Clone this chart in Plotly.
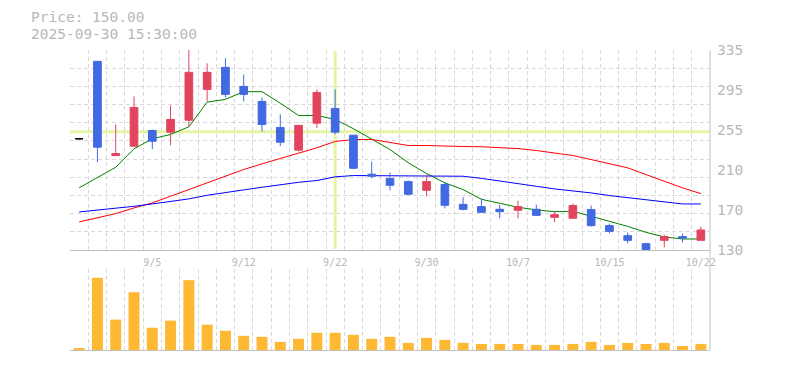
import plotly.graph_objects as go

dates = ["2025-09-01", "2025-09-02", "2025-09-03", "2025-09-04", "2025-09-05",
         "2025-09-08", "2025-09-09", "2025-09-10", "2025-09-11", "2025-09-12",
         "2025-09-16", "2025-09-17", "2025-09-18", "2025-09-19", "2025-09-22",
         "2025-09-24", "2025-09-25", "2025-09-26", "2025-09-29", "2025-09-30",
         "2025-10-01", "2025-10-02", "2025-10-03", "2025-10-06", "2025-10-07",
         "2025-10-08", "2025-10-09", "2025-10-10", "2025-10-14", "2025-10-15",
         "2025-10-16", "2025-10-17", "2025-10-20", "2025-10-21", "2025-10-22"]

open_ = [244, 323.4, 226.8, 236.4, 252.5, 250.8, 263.1, 294.6, 317.2, 297.7,
         282.3, 255.6, 232.3, 260.0, 275.1, 247.7, 207.7, 203.2, 200.1, 191.2,
         197.1, 176.8, 174.5, 171.7, 170.7, 171.7, 163.5, 162.5, 171.4, 155.0,
         144.7, 136.5, 139.9, 143.7, 139.9]
high = [244, 323.4, 258.7, 287.4, 253.5, 278.2, 335.0, 321.3, 326.5, 310.0,
        286.4, 269.0, 257.7, 294.6, 294.6, 247.7, 220.7, 209.4, 201.1, 207.3,
        199.1, 184.0, 182.7, 176.2, 180.6, 176.5, 169.3, 177.6, 175.5, 157.0,
        147.8, 137.5, 145.7, 146.8, 153.9]
low = [244, 220.0, 226.8, 236.4, 233.3, 237.4, 255.9, 282.3, 286.4, 282.3,
       251.5, 236.4, 231.0, 254.9, 248.7, 212.8, 203.5, 191.2, 186.1, 185.0,
       172.7, 170.6, 168.6, 162.5, 162.5, 165.5, 158.4, 162.5, 153.9, 147.1,
       136.8, 130.5, 132.7, 137.8, 139.9]
close = [244, 235.4, 228.9, 276.1, 241.5, 263.8, 312.1, 312.1, 289.5, 289.5,
         258.7, 240.5, 257.7, 291.5, 250.8, 213.8, 205.6, 196.3, 187.1, 200.1,
         175.8, 171.7, 168.6, 169.3, 174.5, 165.5, 166.2, 175.5, 155.0, 149.1,
         139.9, 130.5, 143.7, 142.3, 150.5]
volume = [20, 713, 300, 570, 220, 290, 690, 250, 190, 140,
          130, 80, 110, 170, 170, 150, 110, 130, 70, 120,
          100, 70, 60, 60, 60, 50, 50, 60, 80, 50,
          70, 60, 70, 40, 60]

ma_short = [193.7, 203.9, 214.8, 233.7, 244.0, 248.4, 256.3, 281.6, 284.4, 292.3,
            292.3, 280.5, 267.9, 267.9, 263.8, 254.3, 243.3, 233.0, 219.4, 208.4,
            198.8, 191.9, 182.0, 177.6, 173.8, 171.1, 169.3, 169.7, 164.5, 159.4,
            154.2, 148.1, 143.4, 141.3, 141.3]
ma_mid = [158.8, 162.9, 167.3, 173.1, 178.3, 185.1, 191.9, 198.8, 205.6, 212.5,
          218.3, 223.6, 229.6, 234.8, 241.2, 243.3, 243.3, 239.9, 237.1, 237.1,
          236.4, 236.1, 235.8, 235.1, 234.0, 232.0, 229.6, 226.8, 222.7, 218.6,
          214.2, 207.3, 200.5, 193.7, 187.8]
ma_long = [169.0, 170.7, 172.4, 174.8, 177.2, 179.6, 182.4, 186.1, 189.2, 191.6,
           194.3, 196.9, 199.4, 201.2, 205.0, 206.3, 206.3, 206.3, 206.3, 206.3,
           206.3, 205.6, 203.4, 200.5, 198.1, 195.3, 192.6, 190.6, 188.5, 185.8,
           183.7, 181.7, 179.6, 177.2, 177.2]

tick_dates = ["2025-09-05", "2025-09-12", "2025-09-22", "2025-09-30",
              "2025-10-07", "2025-10-15", "2025-10-22"]
tick_text = ["9/5", "9/12", "9/22", "9/30", "10/7", "10/15", "10/22"]
price_ticks = [130, 171, 212, 253, 294, 335]
price_tick_text = ["130", "170", "210", "255", "295", "335"]
price_range = [130, 335]
volume_range = [0, 800]

cross_date = "2025-09-22"
cross_price = 251.3
info_price = "Price: 150.00"
info_time = "2025-09-30 15:30:00"

RED = "#e2445e"
BLUE = "#4169e1"
ORANGE = "#feb834"
GRID = "#d9d9d9"
AXIS = "#c0c0c0"
TEXT = "#b8b8b8"
CROSS = "#e4f5a6"

n = len(dates)
x = list(range(n))
flat = [i for i in x if open_[i] == close[i] and high[i] == low[i]]
moving = [i for i in x if i not in flat]

fig = go.Figure()

# moving averages (under the candles)
for vals, col in [(ma_short, "#008000"), (ma_mid, "#ff0000"), (ma_long, "#0000ff")]:
    fig.add_trace(go.Scatter(x=x, y=vals, mode="lines", xaxis="x", yaxis="y",
                             line=dict(color=col, width=1), hoverinfo="skip"))

fig.add_trace(go.Candlestick(
    x=[x[i] for i in moving], open=[open_[i] for i in moving],
    high=[high[i] for i in moving], low=[low[i] for i in moving],
    close=[close[i] for i in moving], xaxis="x", yaxis="y3",
    increasing=dict(fillcolor=RED, line=dict(color=RED, width=1)),
    decreasing=dict(fillcolor=BLUE, line=dict(color=BLUE, width=1)),
    whiskerwidth=0))
fig.add_trace(go.Candlestick(
    x=[x[i] for i in flat], open=[open_[i] for i in flat],
    high=[high[i] for i in flat], low=[low[i] for i in flat],
    close=[close[i] for i in flat], xaxis="x", yaxis="y3",
    increasing=dict(fillcolor="#000000", line=dict(color="#000000", width=1)),
    decreasing=dict(fillcolor="#000000", line=dict(color="#000000", width=1)),
    whiskerwidth=0))

fig.add_trace(go.Bar(x=x, y=volume, xaxis="x2", yaxis="y2", width=0.6,
                     marker=dict(color=ORANGE, line=dict(width=0))))

bounds = [i - 0.5 for i in range(n + 1)]
minor_x = dict(tickmode="array", tickvals=bounds, showgrid=True, gridcolor=GRID,
               griddash="4px,3px", gridwidth=1, ticks="")
tickvals = [dates.index(d) for d in tick_dates]

fig.update_layout(
    width=785, height=370,
    margin=dict(l=70, r=75, t=50, b=20, autoexpand=False),
    paper_bgcolor="white", plot_bgcolor="white",
    showlegend=False, boxgap=0.4, boxmode="overlay",
    font=dict(family="DejaVu Sans Mono", color=TEXT),
    xaxis=dict(domain=[0, 1], range=[-0.5, n - 0.5], anchor="y",
               tickmode="array", tickvals=tickvals, ticktext=tick_text,
               showgrid=False, minor=minor_x, ticks="", zeroline=False,
               showline=True, linecolor=AXIS, linewidth=1, ticklabelstandoff=3,
               tickfont=dict(size=10, color=TEXT, family="DejaVu Sans Mono"),
               rangeslider=dict(visible=False)),
    xaxis2=dict(domain=[0, 1], range=[-0.5, n - 0.5], anchor="y2",
                showticklabels=False, showgrid=False, minor=minor_x, ticks="",
                zeroline=False, showline=True, linecolor=AXIS, linewidth=1,
                rangeslider=dict(visible=False)),
    yaxis=dict(domain=[1 / 3, 1], range=price_range, anchor="x",
               tickmode="linear", tick0=price_range[0],
               dtick=(price_range[1] - price_range[0]) / 11,
               showticklabels=False, showgrid=True, gridcolor=GRID,
               griddash="4px,3px", gridwidth=1, ticks="", zeroline=False,
               showline=False),
    yaxis3=dict(overlaying="y", side="right", anchor="x", range=price_range,
                tickmode="array", tickvals=price_ticks, ticktext=price_tick_text,
                showgrid=False, ticks="", zeroline=False, showline=False,
                ticklabelstandoff=6,
                tickfont=dict(size=14.5, color=TEXT, family="DejaVu Sans Mono")),
    yaxis2=dict(domain=[0, 0.27], range=volume_range, anchor="x2",
                showticklabels=False, showgrid=False, ticks="", zeroline=False,
                showline=False),
)

cx = dates.index(cross_date)
fig.add_shape(type="line", xref="x", yref="y domain", x0=cx, x1=cx, y0=0.005, y1=0.995,
              line=dict(color=CROSS, width=3), layer="below")
fig.add_shape(type="line", xref="x domain", yref="y", x0=0, x1=1, y0=cross_price,
              y1=cross_price, line=dict(color=CROSS, width=3), layer="below")
fig.add_shape(type="line", xref="paper", yref="paper", x0=1, x1=1, y0=0, y1=1,
              line=dict(color=AXIS, width=1), layer="above")

fig.add_annotation(text=info_price, xref="paper", yref="paper", x=-40 / 640, y=(350 - 17.5) / 300,
                   xanchor="left", yanchor="middle", showarrow=False, borderpad=0,
                   font=dict(size=14.5, color=TEXT, family="DejaVu Sans Mono"))
fig.add_annotation(text=info_time, xref="paper", yref="paper", x=-40 / 640, y=(350 - 33.5) / 300,
                   xanchor="left", yanchor="middle", showarrow=False, borderpad=0,
                   font=dict(size=14.5, color=TEXT, family="DejaVu Sans Mono"))

fig.write_html("out.html", config={"displayModeBar": False},
               post_script="document.body.style.margin='0';document.body.style.padding='0';")
